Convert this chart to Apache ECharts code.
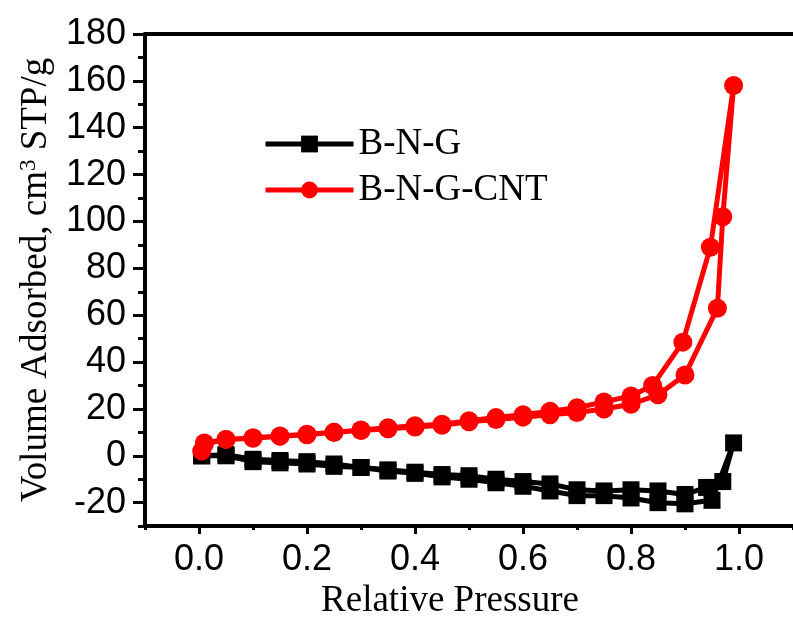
<!DOCTYPE html>
<html>
<head>
<meta charset="utf-8">
<script src="https://cdn.jsdelivr.net/npm/echarts@6/dist/echarts.min.js"></script>
<style>
  html, body { margin: 0; padding: 0; background: #fff; }
  #main { width: 793px; height: 625px; }
</style>
</head>
<body>
<div id="main"></div>
<script>
// 相对压力 (吸附支 -> 脱附支)
var bngPressure = [0.005, 0.05, 0.1, 0.15, 0.2, 0.25, 0.3, 0.35, 0.4, 0.45, 0.5, 0.55, 0.6, 0.65, 0.7, 0.75, 0.8, 0.85, 0.9, 0.95, 0.99,
                   0.97, 0.94, 0.9, 0.85, 0.8, 0.75, 0.7, 0.65, 0.6, 0.55, 0.5, 0.45, 0.4, 0.35, 0.3, 0.25, 0.2, 0.15, 0.1, 0.05, 0.005];
var bngVolume = [0, 0, -2.5, -3, -3.5, -4.5, -5, -6.5, -7.5, -9, -10, -11.5, -13, -15, -17, -17, -18, -20, -20.5, -19, 5.5,
                 -11, -13.5, -16.5, -15, -14.5, -15, -14.5, -12, -11, -10, -8.5, -8, -7, -6, -5, -3.5, -2.5, -2, -1.5, 0.5, 0];

var cntPressure = [0.005, 0.01, 0.05, 0.1, 0.15, 0.2, 0.25, 0.3, 0.35, 0.4, 0.45, 0.5, 0.55, 0.6, 0.65, 0.7, 0.75, 0.8, 0.85, 0.9, 0.96, 0.97, 0.99,
                   0.947, 0.896, 0.84, 0.8, 0.75, 0.7, 0.65, 0.6, 0.55, 0.5, 0.45, 0.4, 0.35, 0.3, 0.25, 0.2, 0.15, 0.1, 0.05, 0.01];
var cntVolume = [2, 5, 7, 7.5, 8.3, 9, 10, 10.8, 11.5, 12.3, 13, 14.5, 15.5, 16.5, 17.5, 18.5, 20, 22, 26, 34.5, 63, 102, 158,
                 89, 48.5, 30, 25.5, 23, 20.5, 19, 17.5, 16.3, 15, 13.5, 12.8, 12, 11, 10, 9.2, 8.5, 7.7, 7, 5.5];

// 刻度
var xLabelValues = [0, 0.2, 0.4, 0.6, 0.8, 1.0];
var yLabelValues = [-20, 0, 20, 40, 60, 80, 100, 120, 140, 160, 180];

function pairs(xs, ys) {
  return xs.map(function (x, i) { return [x, ys[i]]; });
}

var sansFont = '"Liberation Sans", Arial, sans-serif';
var serifFont = '"Liberation Serif", "Times New Roman", serif';

var myChart = echarts.init(document.getElementById('main'));
myChart.setOption({
  animation: false,
  backgroundColor: '#fff',
  grid: { left: 145, right: -7, top: 34, bottom: 97 },
  legend: {
    left: 258,
    top: 119,
    orient: 'vertical',
    itemWidth: 88,
    itemHeight: 21,
    itemGap: 6,
    lineStyle: { width: 5 },
    textStyle: { fontFamily: serifFont, fontSize: 37, lineHeight: 40, color: '#000' },
    data: ['B-N-G', 'B-N-G-CNT']
  },
  xAxis: [
    {
      type: 'value',
      min: -0.1,
      max: 1.1,
      interval: 0.1,
      name: 'Relative Pressure',
      nameLocation: 'middle',
      nameGap: 56,
      nameTextStyle: { fontFamily: serifFont, fontSize: 37, color: '#000', padding: [0, 38, 0, 0] },
      splitLine: { show: false },
      axisLine: { onZero: false, lineStyle: { color: '#000', width: 4 } },
      axisTick: { length: 4, lineStyle: { color: '#000', width: 3 } },
      axisLabel: {
        customValues: xLabelValues,
        margin: 16,
        fontFamily: sansFont,
        fontSize: 36,
        color: '#000',
        formatter: function (v) { return v.toFixed(1); }
      }
    },
    {
      // 主刻度
      type: 'value',
      position: 'bottom',
      min: -0.1,
      max: 1.1,
      splitLine: { show: false },
      axisLine: { show: false, onZero: false },
      axisTick: { customValues: xLabelValues, length: 8, lineStyle: { color: '#000', width: 3 } },
      axisLabel: { show: false }
    },
    {
      type: 'value',
      position: 'top',
      min: -0.1,
      max: 1.1,
      interval: 0.1,
      splitLine: { show: false },
      axisLine: { onZero: false, lineStyle: { color: '#000', width: 4 } },
      axisTick: { inside: true, length: 2, lineStyle: { color: '#000', width: 2 } },
      axisLabel: { show: false }
    }
  ],
  yAxis: [
    {
      type: 'value',
      min: -30,
      max: 180,
      interval: 10,
      name: 'Volume Adsorbed, cm{sup|3} STP/g',
      nameLocation: 'middle',
      nameGap: 76,
      nameTextStyle: {
        fontFamily: serifFont, fontSize: 37, color: '#000',
        rich: { sup: { fontFamily: serifFont, fontSize: 23, color: '#000', padding: [0, 0, 16, 0] } }
      },
      splitLine: { show: false },
      axisLine: { onZero: false, lineStyle: { color: '#000', width: 4 } },
      axisTick: { length: 7, lineStyle: { color: '#000', width: 3 } },
      axisLabel: {
        customValues: yLabelValues,
        margin: 19,
        fontFamily: sansFont,
        fontSize: 36,
        color: '#000'
      }
    },
    {
      // 主刻度
      type: 'value',
      position: 'left',
      min: -30,
      max: 180,
      splitLine: { show: false },
      axisLine: { show: false, onZero: false },
      axisTick: { customValues: yLabelValues, length: 12, lineStyle: { color: '#000', width: 3 } },
      axisLabel: { show: false }
    }
  ],
  series: [
    {
      name: 'B-N-G',
      type: 'line',
      color: '#000',
      symbol: 'rect',
      symbolSize: 17,
      lineStyle: { width: 5, color: '#000' },
      itemStyle: { color: '#000' },
      data: pairs(bngPressure, bngVolume)
    },
    {
      name: 'B-N-G-CNT',
      type: 'line',
      color: '#ff0000',
      symbol: 'circle',
      symbolSize: 19,
      lineStyle: { width: 5, color: '#ff0000' },
      itemStyle: { color: '#ff0000' },
      data: pairs(cntPressure, cntVolume)
    }
  ]
});
</script>
</body>
</html>
